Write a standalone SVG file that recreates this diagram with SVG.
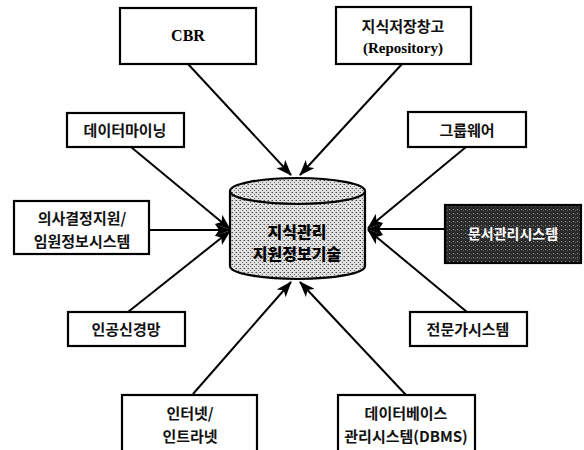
<svg xmlns="http://www.w3.org/2000/svg" width="584" height="450" viewBox="0 0 584 450">
<style>
.box{fill:#fff;stroke:#000;stroke-width:2.2}
.dark{fill:url(#darkdots);stroke:#000;stroke-width:2.2}
.t{font-family:"Noto Sans CJK KR","Noto Sans",sans-serif;font-size:15px;font-weight:bold;text-anchor:middle;fill:#111}
.s{font-family:"Liberation Serif",serif;font-size:16px;font-weight:bold;text-anchor:middle;fill:#000}
.c{font-family:"Noto Sans CJK KR","Noto Sans",sans-serif;font-size:16px;font-weight:900;text-anchor:middle;fill:#000}
.w{font-family:"Noto Sans CJK KR","Noto Sans",sans-serif;font-size:14px;font-weight:bold;text-anchor:middle;fill:#fff}
.ln{stroke:#000;stroke-width:2;fill:none;marker-end:url(#ah)}
</style>
<defs>
<marker id="ah" viewBox="0 0 16 12" refX="15" refY="6" markerWidth="16" markerHeight="12" markerUnits="userSpaceOnUse" orient="auto">
<path d="M0,0 L16,6 L0,12 L4,6 Z" fill="#000"/>
</marker>
<pattern id="dots" width="4" height="4" patternUnits="userSpaceOnUse">
<rect width="4" height="4" fill="#e0e0e0"/>
<rect x="0" y="0" width="1" height="1" fill="#444"/>
<rect x="2" y="2" width="1" height="1" fill="#666"/>
<rect x="3" y="0" width="1" height="1" fill="#999"/>
</pattern>
<pattern id="darkdots" width="4" height="4" patternUnits="userSpaceOnUse">
<rect width="4" height="4" fill="#2a2a2a"/>
<rect x="1" y="1" width="1" height="1" fill="#999"/>
<rect x="3" y="2" width="1" height="1" fill="#666"/>
</pattern>
</defs>
<g id="connectors">
<line class="ln" x1="188" y1="64" x2="291" y2="175"/>
<line class="ln" x1="402" y1="64" x2="300" y2="175"/>
<line class="ln" x1="131" y1="147" x2="230" y2="229"/>
<line class="ln" x1="149" y1="230" x2="230" y2="230"/>
<line class="ln" x1="128" y1="312" x2="230" y2="231"/>
<line class="ln" x1="466" y1="147" x2="368" y2="228"/>
<line class="ln" x1="445" y1="229" x2="368" y2="229"/>
<line class="ln" x1="467" y1="312" x2="368" y2="230"/>
<line class="ln" x1="193" y1="394" x2="291" y2="282"/>
<line class="ln" x1="406" y1="395" x2="300" y2="282"/>
</g>
<g id="center">
<path d="M230,191 L230,266 A67.5,13 0 0 0 365,266 L365,191" fill="url(#dots)" stroke="#000" stroke-width="2.2"/>
<ellipse cx="297.5" cy="191" rx="67.5" ry="13" fill="url(#dots)" stroke="#000" stroke-width="2.2"/>
<text class="c" x="297" y="238">지식관리</text>
<text class="c" x="297" y="260">지원정보기술</text>
</g>
<g id="cbr"><rect class="box" x="120" y="8" width="136" height="56"/><text class="s" x="188" y="41">CBR</text></g>
<g id="repository"><rect class="box" x="336" y="7" width="135" height="57"/><text class="t" x="403" y="32">지식저장창고</text><text class="s" x="403" y="53" style="font-size:15px">(Repository)</text></g>
<g id="datamining"><rect class="box" x="67" y="113" width="117" height="34"/><text class="t" x="125" y="136">데이터마이닝</text></g>
<g id="groupware"><rect class="box" x="408" y="112" width="118" height="35"/><text class="t" x="467" y="136">그룹웨어</text></g>
<g id="dss"><rect class="box" x="14" y="201" width="135" height="53"/><text class="t" x="82" y="224">의사결정지원/</text><text class="t" x="82" y="247">임원정보시스템</text></g>
<g id="docmgmt"><rect class="dark" x="445" y="205" width="136" height="58"/><text class="w" x="513" y="239">문서관리시스템</text></g>
<g id="neural"><rect class="box" x="68" y="312" width="117" height="34"/><text class="t" x="126" y="335">인공신경망</text></g>
<g id="expert"><rect class="box" x="410" y="312" width="117" height="34"/><text class="t" x="468" y="335">전문가시스템</text></g>
<g id="internet"><rect class="box" x="122" y="395" width="135" height="60"/><text class="t" x="190" y="419">인터넷/</text><text class="t" x="190" y="442">인트라넷</text></g>
<g id="dbms"><rect class="box" x="338" y="395" width="137" height="60"/><text class="t" x="406" y="419">데이터베이스</text><text class="t" x="406" y="442">관리시스템(DBMS)</text></g>
</svg>
